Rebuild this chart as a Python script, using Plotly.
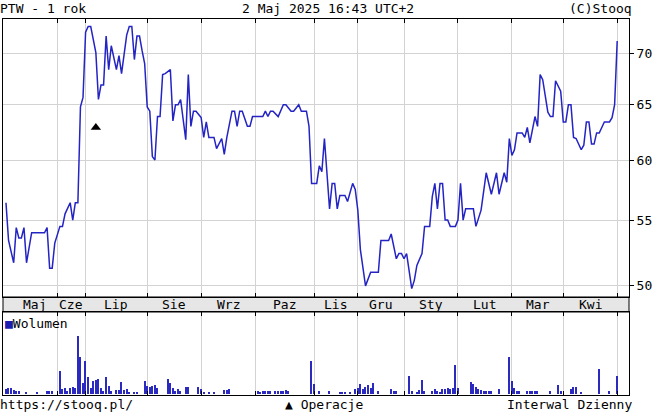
import math
import plotly.graph_objects as go

# ---------------- data ----------------
# session index (trading day number within the 1-year window) and close price
price_session = [0, 1, 3, 4, 5, 6, 7, 8, 10, 15, 16, 17, 18, 19, 21, 22, 23, 25, 26, 27, 28, 29, 30, 31, 32, 33,
                 35, 36, 37, 38, 39, 40, 41, 43, 44, 45, 47, 48, 49, 50, 51, 52, 53, 54, 55, 56, 57, 58, 59, 60,
                 61, 62, 64, 65, 66, 67, 68, 70, 71, 72, 73, 74, 76, 77, 78, 79, 81, 82, 84, 85, 86, 88, 89, 90,
                 91, 92, 94, 95, 96, 100, 101, 102, 103, 104, 106, 108, 109, 111, 112, 114, 115, 117, 118, 119,
                 121, 122, 123, 124, 126, 127, 128, 129, 130, 132, 133, 135, 136, 137, 138, 139, 140, 142, 145,
                 146, 149, 150, 152, 153, 154, 155, 156, 158, 159, 160, 162, 163, 165, 166, 167, 168, 169, 170,
                 171, 172, 173, 175, 176, 177, 178, 179, 182, 183, 185, 187, 189, 191, 192, 194, 195, 196, 197,
                 198, 199, 201, 202, 203, 204, 206, 207, 208, 209, 211, 212, 213, 214, 216, 217, 218, 219, 220,
                 221, 222, 224, 225, 226, 227, 228, 229, 230, 231, 233, 235, 236, 237, 238]
close = [56.4, 53.4, 51.7, 54.4, 53.6, 53.6, 54.4, 51.7, 54.0, 54.0, 54.4, 51.3, 51.3, 53.2, 54.5, 54.5, 55.5,
         56.4, 55.0, 56.4, 56.4, 64.8, 65.7, 72.2, 72.8, 72.8,
         70.1, 65.5, 66.9, 66.9, 71.8, 68.4, 70.8, 68.4, 69.8, 68.0, 71.9, 72.8, 72.8, 69.4, 71.8, 71.8, 70.3,
         69.0, 64.8, 64.4, 60.3, 60.0, 63.9, 63.9,
         67.9, 68.0, 68.4, 63.5, 65.0, 65.0, 65.5, 61.8, 67.9, 63.0, 64.4, 64.4, 63.8, 62.0, 63.4, 62.0, 62.0,
         61.0, 61.9, 60.5, 62.0, 64.4, 64.4, 63.0,
         64.4, 64.4, 63.0, 63.0, 63.9, 63.9, 64.4, 63.9, 64.4, 64.4, 63.9, 65.0, 65.0, 64.4, 64.4, 65.0, 64.4,
         64.4, 63.0, 58.0,
         58.0, 59.5, 59.0, 61.9, 55.9, 58.0, 58.0, 55.9, 57.0, 57.0, 56.5, 58.0, 57.5, 55.8, 52.7, 51.5, 50.0,
         51.0, 51.0,
         53.4, 53.4, 53.9, 52.0, 52.4, 52.4, 52.0, 52.4, 49.8, 50.4, 51.5, 52.4, 54.5, 54.5, 56.9, 58.0, 55.9,
         58.0, 58.0,
         55.0, 55.0, 54.5, 54.5, 55.0, 58.0, 55.0, 55.9, 55.9, 54.5, 55.8, 58.9, 57.1, 58.9, 57.1, 58.9, 58.1,
         61.9, 60.4,
         60.9, 62.4, 62.4, 62.0, 62.9, 61.5, 63.9, 63.0, 67.9, 67.4, 64.3, 63.9, 63.9, 67.3, 66.3, 63.4, 63.4,
         65.0, 65.0,
         62.0, 61.9, 60.9, 61.3, 63.4, 63.4, 61.4, 61.4, 62.4, 62.4, 63.4, 63.4, 63.8, 65.0, 71.3]

# volume (thousands of shares) per session
vol_session = [0, 1, 2, 3, 4, 5, 8, 12, 16, 17, 18, 21, 22, 23, 24, 25, 26, 27, 28, 29, 30, 31, 32, 33, 34, 35,
               36, 37, 38, 39, 40, 41, 43, 44, 45, 46, 47, 48, 50, 51, 54, 55, 56, 57, 58, 59, 63, 64, 65, 66,
               67, 68, 70, 71, 75, 76, 77, 79, 81, 85, 86, 87, 98, 99, 100, 101, 102, 103, 105, 106, 107, 108,
               109, 110, 119, 120, 122, 126, 130, 131, 132, 134, 136, 137, 138, 139, 140, 141, 142, 143, 145,
               150, 151, 152, 157, 158, 160, 161, 162, 163, 166, 167, 168, 169, 170, 171, 172, 173, 174, 175,
               176, 181, 182, 183, 184, 185, 186, 187, 188, 189, 192, 196, 197, 198, 199, 200, 203, 204, 205,
               206, 207, 212, 215, 216, 220, 221, 222, 224, 231, 235, 238]
volume = [5, 6, 6, 4, 3, 3, 2, 2, 3, 3, 3, 23, 5, 6, 3, 6, 7, 6, 58, 37, 11, 33, 17, 6, 13, 14,
          15, 6, 3, 17, 8, 3, 4, 4, 12, 4, 5, 2, 2, 2, 13, 8, 7, 8, 9, 6, 15, 11, 6, 3,
          5, 3, 7, 7, 7, 5, 2, 2, 2, 4, 4, 5, 3, 2, 3, 3, 3, 3, 3, 3, 3, 3,
          4, 3, 33, 10, 3, 3, 2, 2, 2, 2, 5, 6, 10, 5, 7, 9, 6, 11, 3,
          5, 3, 3, 18, 3, 2, 4, 14, 3, 3, 5, 3, 2, 5, 5, 6, 5, 6, 29,
          6, 12, 10, 7, 5, 4, 3, 3, 3, 3, 5, 37, 13, 6, 3, 3, 3, 3, 3,
          3, 3, 3, 9, 3, 5, 7, 7, 2, 25, 3, 18]

# first session of each month (gridlines) and month names
month_start = [20, 31, 55, 76, 97, 120, 137, 155, 176, 197, 217, 238]
month_names = ["Maj", "Cze", "Lip", "Sie", "Wrz", "Paz", "Lis", "Gru", "Sty", "Lut", "Mar", "Kwi"]

price_ticks = [50, 55, 60, 65, 70]

# corporate operation marker
op_session = [35]
op_level = [62.9]

# ---------------- figure ----------------
FONT = "DejaVu Sans Mono"
LINE = "#2424c4"
GRID = "#d3d3d3"

x_range = [-1.16, 242.6]
vol_top = 0.22074
band_top = 0.26064

fig = go.Figure()
fig.add_trace(go.Scatter(x=price_session, y=close, mode="lines",
                         line=dict(color=LINE, width=1.5), xaxis="x", yaxis="y",
                         hoverinfo="skip"))
fig.add_trace(go.Scatter(x=op_session, y=op_level, mode="markers",
                         marker=dict(symbol="triangle-up", size=9, color="black"),
                         xaxis="x", yaxis="y", hoverinfo="skip"))
fig.add_trace(go.Bar(x=vol_session, y=volume, width=0.5,
                     marker=dict(color="#2a2ac0", line=dict(width=0)),
                     xaxis="x2", yaxis="y2", hoverinfo="skip"))

axis_common = dict(range=x_range, tickvals=month_start, showticklabels=False,
                   ticks="inside", ticklen=4, tickcolor="black", mirror="ticks",
                   showline=True, linecolor="black", linewidth=1,
                   showgrid=True, gridcolor=GRID, gridwidth=1, zeroline=False)

fig.update_layout(
    width=654, height=414,
    margin=dict(l=2, r=23, t=19, b=19),
    paper_bgcolor="white", plot_bgcolor="white",
    showlegend=False,
    font=dict(family=FONT, size=13, color="black"),
    bargap=0,
    xaxis=dict(domain=[0, 1], anchor="y", **axis_common),
    yaxis=dict(domain=[band_top, 1], anchor="x", type="log",
               range=[math.log10(49.2), math.log10(73.6)],
               side="right", tickvals=price_ticks, ticktext=[str(t) for t in price_ticks],
               ticks="outside", ticklen=4, tickcolor="black",
               showline=True, linecolor="black", linewidth=1, mirror=True,
               showgrid=True, gridcolor=GRID, gridwidth=1, zeroline=False,
               tickfont=dict(family=FONT, size=13)),
    xaxis2=dict(domain=[0, 1], anchor="y2", matches="x", **axis_common),
    yaxis2=dict(domain=[0, vol_top], anchor="x2", range=[-1.5, 81.5],
                showticklabels=False, ticks="", showgrid=False, zeroline=False,
                showline=True, linecolor="black", linewidth=1, mirror=True),
)

# month band
fig.add_shape(type="rect", xref="paper", yref="paper", x0=0, x1=1, y0=vol_top, y1=band_top,
              fillcolor="#e6e6e6", line=dict(color="black", width=1), layer="below")

edges = [2.5] + month_start
band_mid = (vol_top + band_top) / 2
for i, name in enumerate(month_names):
    fig.add_annotation(x=(edges[i] + edges[i + 1]) / 2, y=band_mid, xref="x", yref="paper",
                       text=name, showarrow=False, xanchor="center", yanchor="middle",
                       font=dict(family=FONT, size=13, color="black"))

def txt(x, y, s, anchor):
    fig.add_annotation(x=x, y=y, xref="paper", yref="paper", text=s, showarrow=False,
                       xanchor=anchor, yanchor="middle", borderpad=0,
                       font=dict(family=FONT, size=13, color="black"))

txt(-0.007, 1.029, "PTW - 1 rok", "left")
txt(0.519, 1.029, "2 Maj 2025 16:43 UTC+2", "center")
txt(1.006, 1.029, "(C)Stooq", "right")
txt(-0.007, -0.024, "https://stooq.pl/", "left")
txt(0.513, -0.024, "▲ Operacje", "center")
txt(1.006, -0.024, "Interwal Dzienny", "right")
txt(0.001, 0.189, "<span style='color:#1c1cb0'>■</span>Wolumen", "left")

fig.write_html("out.html", config={"displayModeBar": False},
               post_script="document.body.style.margin='0px';document.body.style.overflow='hidden';")
